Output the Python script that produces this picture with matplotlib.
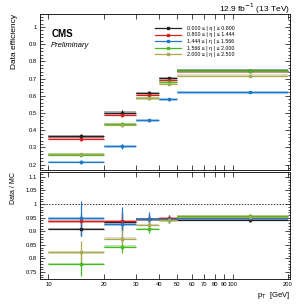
import matplotlib
matplotlib.use("Agg")
import matplotlib.pyplot as plt
from matplotlib.patches import Rectangle
from matplotlib.lines import Line2D
from matplotlib.ticker import MultipleLocator, FixedLocator, NullLocator

plt.rcParams['font.family'] = ['Liberation Sans', 'DejaVu Sans']

# bin edges in pT [GeV]
bin_lo = [10, 20, 30, 40, 50]
bin_hi = [20, 30, 40, 50, 200]
bin_c = [15, 25, 35, 45, 125]

labels = ["0.000 \u2264 | \u03b7 | \u2264 0.800",
          "0.800 \u2264 | \u03b7 | \u2264 1.444",
          "1.444 \u2264 | \u03b7 | \u2264 1.566",
          "1.566 \u2264 | \u03b7 | \u2264 2.000",
          "2.000 \u2264 | \u03b7 | \u2264 2.500"]
colors = ["#222222", "#d42020", "#1f78c8", "#44bb22", "#a8a855"]

# data efficiency
eff = [[0.364, 0.503, 0.616, 0.703, 0.745],
       [0.351, 0.488, 0.606, 0.693, 0.743],
       [0.216, 0.306, 0.457, 0.580, 0.620],
       [0.258, 0.436, 0.587, 0.682, 0.745],
       [0.260, 0.432, 0.585, 0.668, 0.716]]
eff_err = [[0.012, 0.012, 0.010, 0.008, 0.005],
           [0.012, 0.012, 0.010, 0.008, 0.005],
           [0.012, 0.016, 0.010, 0.008, 0.005],
           [0.010, 0.012, 0.008, 0.008, 0.005],
           [0.010, 0.012, 0.008, 0.008, 0.005]]

# data / MC scale factors
sf = [[0.908, 0.934, 0.944, 0.944, 0.943],
      [0.937, 0.936, 0.945, 0.947, 0.950],
      [0.948, 0.925, 0.945, 0.944, 0.948],
      [0.780, 0.843, 0.908, 0.940, 0.955],
      [0.822, 0.873, 0.923, 0.942, 0.954]]
sf_err = [[0.025, 0.030, 0.015, 0.010, 0.008],
          [0.030, 0.035, 0.015, 0.012, 0.008],
          [0.065, 0.065, 0.025, 0.015, 0.008],
          [0.045, 0.022, 0.015, 0.010, 0.010],
          [0.042, 0.030, 0.015, 0.010, 0.010]]

fig = plt.figure(figsize=(3.05, 3.05), dpi=100)
ax1 = fig.add_axes([0.131, 0.443, 0.82, 0.511])
ax2 = fig.add_axes([0.131, 0.085, 0.82, 0.351])


def draw(ax, vals, errs, band):
    for k in range(len(labels)):
        for i in range(len(bin_c)):
            ax.add_patch(Rectangle((bin_lo[i], vals[k][i] - band),
                                   bin_hi[i] - bin_lo[i], 2 * band,
                                   color=colors[k], alpha=0.35, lw=0))
        xerr = [[c - l for c, l in zip(bin_c, bin_lo)],
                [h - c for c, h in zip(bin_c, bin_hi)]]
        ax.errorbar(bin_c, vals[k], xerr=xerr, yerr=errs[k], fmt='s',
                    color=colors[k], ms=2.0, lw=0.9, elinewidth=0.9,
                    capsize=0)


draw(ax1, eff, eff_err, 0.008)
draw(ax2, sf, sf_err, 0.005)

xticks = [10, 20, 30, 40, 50, 60, 70, 80, 90, 100, 200]
for ax in (ax1, ax2):
    ax.set_xscale('log')
    ax.set_xlim(9.0, 205)
    ax.xaxis.set_major_locator(FixedLocator(xticks))
    ax.xaxis.set_minor_locator(NullLocator())
    ax.tick_params(which='both', direction='in', top=True, right=True,
                   labelsize=4.2, width=0.5, pad=2)
    ax.tick_params(which='major', length=3.5)
    ax.tick_params(which='minor', length=1.8)
    for s in ax.spines.values():
        s.set_linewidth(0.6)

ax1.set_xticklabels([])
ax1.set_ylim(0.17, 1.075)
ax1.set_yticks([0.2, 0.3, 0.4, 0.5, 0.6, 0.7, 0.8, 0.9, 1.0])
ax1.set_yticklabels(["0.2", "0.3", "0.4", "0.5", "0.6", "0.7", "0.8", "0.9", "1"])
ax1.yaxis.set_minor_locator(MultipleLocator(0.02))
ax1.set_ylabel("Data efficiency", fontsize=6, loc='top', labelpad=8)

ax2.set_ylim(0.724, 1.118)
ax2.set_yticks([0.75, 0.8, 0.85, 0.9, 0.95, 1.0, 1.05, 1.1])
ax2.set_yticklabels(["0.75", "0.8", "0.85", "0.9", "0.95", "1", "1.05", "1.1"])
ax2.yaxis.set_minor_locator(MultipleLocator(0.01))
ax2.set_xticklabels([str(t) for t in xticks])
ax2.axhline(1.0, color='#333333', ls=(0, (1.5, 1.5)), lw=0.7)
ax2.set_ylabel("Data / MC", fontsize=5, loc='top', labelpad=6)
ax2.set_xlabel("p$_{\\mathrm{T}}$  [GeV]", fontsize=5.5, loc='right', labelpad=2)

handles = [Line2D([0], [0], color=c, lw=0.9, marker='s', ms=2.0) for c in colors]
ax1.legend(handles, labels, loc='upper left', bbox_to_anchor=(0.44, 0.955),
           fontsize=3.8, frameon=False, handlelength=5.0, labelspacing=0.3,
           handletextpad=1.2)

ax1.text(0.045, 0.905, "CMS", transform=ax1.transAxes, fontsize=7,
         fontweight='bold', va='top')
ax1.text(0.045, 0.82, "Preliminary", transform=ax1.transAxes, fontsize=5.5,
         style='italic', va='top')
fig.text(0.951, 0.962, "12.9 fb$^{-1}$ (13 TeV)", ha='right', va='baseline',
         fontsize=6)

fig.savefig("out.png", dpi=100)
